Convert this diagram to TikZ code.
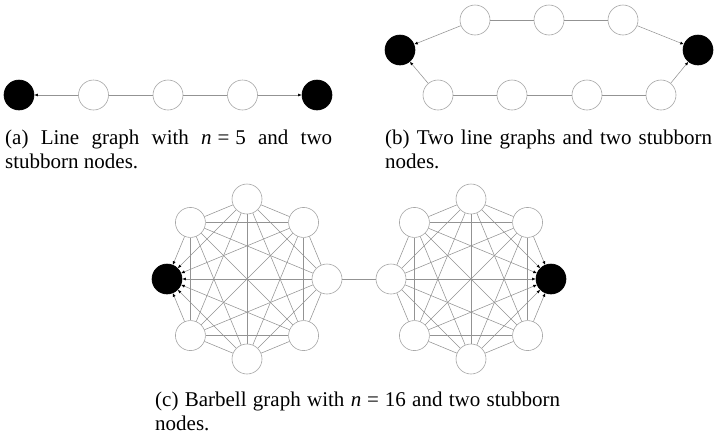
\documentclass[tikz,border=0pt]{standalone}
\usepackage{fontspec}
\setmainfont{Liberation Serif}
\usetikzlibrary{arrows.meta}
\hyphenpenalty=10000
\exhyphenpenalty=10000
\tolerance=9999

\tikzset{
  agent/.style={circle, draw=gray!70, fill=white, line width=0.6pt, minimum size=30pt, inner sep=0pt},
  stubborn/.style={circle, draw=black, fill=black, line width=0.6pt, minimum size=30pt, inner sep=0pt},
  edge/.style={draw=gray!85, line width=0.55pt},
  influence/.style={edge, -{Latex[length=3.6pt,width=3pt,black]}},
  caption/.style={anchor=north west, inner sep=0pt, align=justify,
    font=\fontsize{21}{23.5}\selectfont},
}
\newcommand{\nvar}{\textit{n}\hspace{0.28em}=\hspace{0.28em}}

\begin{document}
\begin{tikzpicture}[x=1pt, y=-1pt]
  \useasboundingbox (0,0) rectangle (715,437);

  % (a) line graph with five nodes
  \node[stubborn] (a1) at (19,95) {};
  \node[agent]    (a2) at (93.5,95) {};
  \node[agent]    (a3) at (168,95) {};
  \node[agent]    (a4) at (242.5,95) {};
  \node[stubborn] (a5) at (317,95) {};
  \draw[influence] (a2) -- (a1);
  \draw[edge] (a2) -- (a3);
  \draw[edge] (a3) -- (a4);
  \draw[influence] (a4) -- (a5);

  % (b) two line graphs between two stubborn nodes
  \node[stubborn] (bl) at (400,50) {};
  \node[stubborn] (br) at (698,50) {};
  \node[agent] (t1) at (475,20) {};
  \node[agent] (t2) at (549,20) {};
  \node[agent] (t3) at (623,20) {};
  \node[agent] (u1) at (438,95) {};
  \node[agent] (u2) at (512,95) {};
  \node[agent] (u3) at (587,95) {};
  \node[agent] (u4) at (661,95) {};
  \draw[influence] (t1) -- (bl);
  \draw[edge] (t1) -- (t2);
  \draw[edge] (t2) -- (t3);
  \draw[influence] (t3) -- (br);
  \draw[influence] (u1) -- (bl);
  \draw[edge] (u1) -- (u2);
  \draw[edge] (u2) -- (u3);
  \draw[edge] (u3) -- (u4);
  \draw[influence] (u4) -- (br);

  % (c) barbell graph: two cliques of eight nodes joined by a bridge
  \node[stubborn] (L0) at ([shift={(180:80)}]247,279) {};
  \foreach \i in {1,...,7}{
    \pgfmathsetmacro\ang{180-45*\i}
    \node[agent] (L\i) at ([shift={(\ang:80)}]247,279) {};
  }
  \node[stubborn] (R0) at ([shift={(0:80)}]471,279) {};
  \foreach \i in {1,...,7}{
    \pgfmathsetmacro\ang{45*\i}
    \node[agent] (R\i) at ([shift={(\ang:80)}]471,279) {};
  }
  \foreach \i in {1,...,7}{
    \draw[influence] (L\i) -- (L0);
    \draw[influence] (R\i) -- (R0);
  }
  \foreach \i in {1,...,6}{
    \pgfmathtruncatemacro\k{\i+1}
    \foreach \j in {\k,...,7}{
      \draw[edge] (L\i) -- (L\j);
      \draw[edge] (R\i) -- (R\j);
    }
  }
  \draw[edge] (L4) -- (R4);

  % captions
  \node[caption, text width=327pt] (capa) at (5,130)
    {(a) Line graph with \nvar5 and two stubborn nodes.};
  \node[caption, text width=327pt] (capb) at (385,130)
    {(b) Two line graphs and two stubborn nodes.};
  \node[caption, text width=405pt] (capc) at (155,392)
    {(c) Barbell graph with \nvar16 and two stubborn nodes.};
\end{tikzpicture}
\end{document}
